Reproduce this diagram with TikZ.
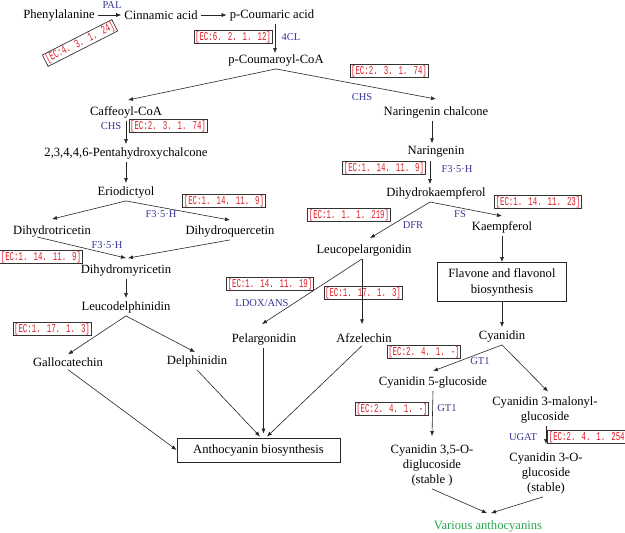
\documentclass[tikz,border=0pt]{standalone}
\usepackage{fontspec}
\setmainfont{Liberation Serif}
\newfontfamily\ecfont[FakeStretch=0.62]{Liberation Mono}
\usetikzlibrary{arrows.meta}
\definecolor{enz}{RGB}{55,55,150}
\definecolor{ecred}{RGB}{225,30,40}
\definecolor{vgreen}{RGB}{40,165,80}
\begin{document}
\begin{tikzpicture}[x=1pt,y=-1pt,
 cmp/.style={inner sep=3pt, align=center, font=\fontsize{12.6}{15}\selectfont},
 enzlab/.style={text=enz, font=\fontsize{10.5}{12}\selectfont, inner sep=1pt},
 ec/.style={draw=black!80, line width=0.7pt, text=ecred, font=\ecfont\fontsize{12}{13}\selectfont, inner xsep=1pt, inner ysep=0.8pt},
 pbox/.style={draw=black!85, line width=0.8pt, align=center, font=\fontsize{12.6}{16}\selectfont},
 arr/.style={-{Latex[length=5pt,width=4pt]}, line width=0.6pt, draw=black!85}]
\fill[white] (0,0) rectangle (625,533);
\useasboundingbox (0,0) rectangle (625,533);

% top row
\node[cmp] (phe) at (59,15) {Phenylalanine};
\node[cmp] (cin) at (161,15) {Cinnamic acid};
\node[cmp] (pca) at (272,15) {p-Coumaric acid};
\node[enzlab] (pal) at (112,5) {PAL};
\node[ec, rotate=27] (ec1) at (80,43) {[EC:4. 3. 1. 24]};
\draw[arr] (phe) -- (cin);
\draw[arr] (cin) -- (pca);

\node[cmp] (pcoa) at (276,60) {p-Coumaroyl-CoA};
\draw[arr] ([xshift=3pt]pca.south) -- ([xshift=-1pt,yshift=-2pt]pcoa.north);
\node[enzlab] (cl4) at (291,37) {4CL};
\node[ec] (ec2) at (233,37) {[EC:6. 2. 1. 12]};

\node[cmp] (caff) at (126,112) {Caffeoyl-CoA};
\node[cmp] (nchal) at (436,112) {Naringenin chalcone};
\draw[arr] (pcoa.south) -- ([xshift=2pt,yshift=3pt]caff.north);
\draw[arr] (pcoa.south) -- ([yshift=4pt]nchal.north);
\node[ec] (ec3) at (389,71) {[EC:2. 3. 1. 74]};
\node[enzlab] (chs1) at (362,97) {CHS};

% left branch
\node[cmp] (penta) at (126,153) {2,3,4,4,6-Pentahydroxychalcone};
\draw[arr] (caff) -- (penta);
\node[enzlab] (chs2) at (111,126) {CHS};
\node[ec] (ec4) at (168,126) {[EC:2. 3. 1. 74]};
\node[cmp] (erio) at (126,192) {Eriodictyol};
\draw[arr] (penta) -- (erio);
\node[cmp] (dtri) at (52,231) {Dihydrotricetin};
\node[cmp] (dque) at (230,231) {Dihydroquercetin};
\draw[arr] (erio.south) -- ([yshift=3pt]dtri.north);
\draw[arr] (erio.south) -- ([yshift=2pt]dque.north);
\node[enzlab] (f35a) at (161,214) {F3·5·H};
\node[ec] (ec5) at (224,201) {[EC:1. 14. 11. 9]};
\node[cmp] (dmyr) at (126,270) {Dihydromyricetin};
\draw[arr] ([xshift=-15pt,yshift=3pt]dtri.south) -- ([yshift=3pt]dmyr.north);
\draw[arr] (dque.south) -- ([xshift=2pt,yshift=3pt]dmyr.north);
\node[enzlab] (f35b) at (107,245) {F3·5·H};
\node[ec] (ec6) at (41,257) {[EC:1. 14. 11. 9]};
\node[cmp] (ldel) at (126,307) {Leucodelphinidin};
\draw[arr] (dmyr) -- (ldel);
\node[ec] (ec7) at (52,329) {[EC:1. 17. 1. 3]};
\node[cmp] (gal) at (68,362) {Gallocatechin};
\node[cmp] (del) at (197,361) {Delphinidin};
\draw[arr] (ldel.south) -- (gal.north);
\draw[arr] (ldel.south) -- ([xshift=-2pt]del.north);

% right branch
\node[cmp] (nar) at (436,152) {Naringenin};
\draw[arr] ([xshift=-4pt]nchal.south) -- ([xshift=-4pt]nar.north);
\node[cmp] (dhk) at (436,193) {Dihydrokaempferol};
\draw[arr] ([xshift=-6pt]nar.south) -- ([xshift=-6pt]dhk.north);
\node[ec] (ec8) at (384,168) {[EC:1. 14. 11. 9]};
\node[enzlab] (f35c) at (457,169) {F3·5·H};
\node[cmp] (lpel) at (364,250) {Leucopelargonidin};
\node[cmp] (kae) at (502,227) {Kaempferol};
\draw[arr] ([xshift=-6pt]dhk.south) -- ([xshift=6pt,yshift=3pt]lpel.north);
\draw[arr] ([xshift=-6pt]dhk.south) -- ([yshift=2pt]kae.north);
\node[ec] (ec9) at (349,215) {[EC:1. 1. 1. 219]};
\node[enzlab] (dfr) at (413,225) {DFR};
\node[enzlab] (fs) at (460,214) {FS};
\node[ec] (ec10) at (538,202) {[EC:1. 14. 11. 23]};
\node[pbox, minimum width=129pt, minimum height=39pt] (flav) at (502,282) {Flavone and flavonol\\biosynthesis};
\draw[arr] (kae) -- (flav);
\node[cmp] (cya) at (502,336) {Cyanidin};
\draw[arr] (flav) -- (cya);

\node[cmp] (pel) at (264,339) {Pelargonidin};
\node[cmp] (afz) at (364,338) {Afzelechin};
\draw[arr] ([xshift=-2pt]lpel.south) -- ([xshift=-2pt,yshift=6pt]pel.north);
\draw[arr] ([xshift=-2pt]lpel.south) -- ([xshift=-2pt,yshift=6pt]afz.north);
\node[ec] (ec11) at (270,284) {[EC:1. 14. 11. 19]};
\node[enzlab] (ldox) at (262,303) {LDOX/ANS};
\node[ec] (ec12) at (363,293) {[EC:1. 17. 1. 3]};

\node[pbox, minimum width=163pt, minimum height=24pt] (antho) at (258.5,450) {Anthocyanin biosynthesis};
\coordinate (pelin) at ([xshift=5pt,yshift=4pt]antho.north);
\draw[arr] (gal.south) -- (antho.west);
\draw[arr] (del.south) -- ([xshift=1.5pt,yshift=1pt]antho.north);
\draw[arr] ([xshift=-0.5pt]pel.south) -- (pelin);
\draw[arr] ([xshift=-2pt]afz.south) -- ([xshift=8.5pt,yshift=1pt]antho.north);

% cyanidin branch
\node[cmp] (c5g) at (433,382) {Cyanidin 5-glucoside};
\node[cmp] (c3m) at (545,410) {Cyanidin 3-malonyl-\\glucoside};
\draw[arr] (cya.south) -- ([yshift=2pt]c5g.north);
\draw[arr] (cya.south) -- ([xshift=3pt,yshift=2pt]c3m.north);
\node[ec] (ec13) at (424,352) {[EC:2. 4. 1. -]};
\node[enzlab] (gt1a) at (480,361) {GT1};
\node[cmp] (c35) at (432,465) {Cyanidin 3,5-O-\\diglucoside\\(stable )};
\draw[arr] (c5g.south) -- ([yshift=5pt]c35.north);
\node[ec] (ec14) at (392,409) {[EC:2. 4. 1. -]};
\node[enzlab] (gt1b) at (447,408) {GT1};
\node[cmp] (c3o) at (546,473) {Cyanidin 3-O-\\glucoside\\(stable)};
\draw[arr] ([xshift=1pt]c3m.south) -- ([yshift=5pt]c3o.north);
\node[enzlab] (ugat) at (523,437) {UGAT};
\node[ec] (ec15) at (589,437) {[EC:2. 4. 1. 254]};
\node[cmp, text=vgreen] (var) at (488,526) {Various anthocyanins};
\draw[arr] (c35.south) -- ([xshift=-1pt,yshift=4pt]var.north);
\draw[arr] ([xshift=-3pt]c3o.south) -- ([xshift=3pt,yshift=4pt]var.north);
\end{tikzpicture}
\end{document}
